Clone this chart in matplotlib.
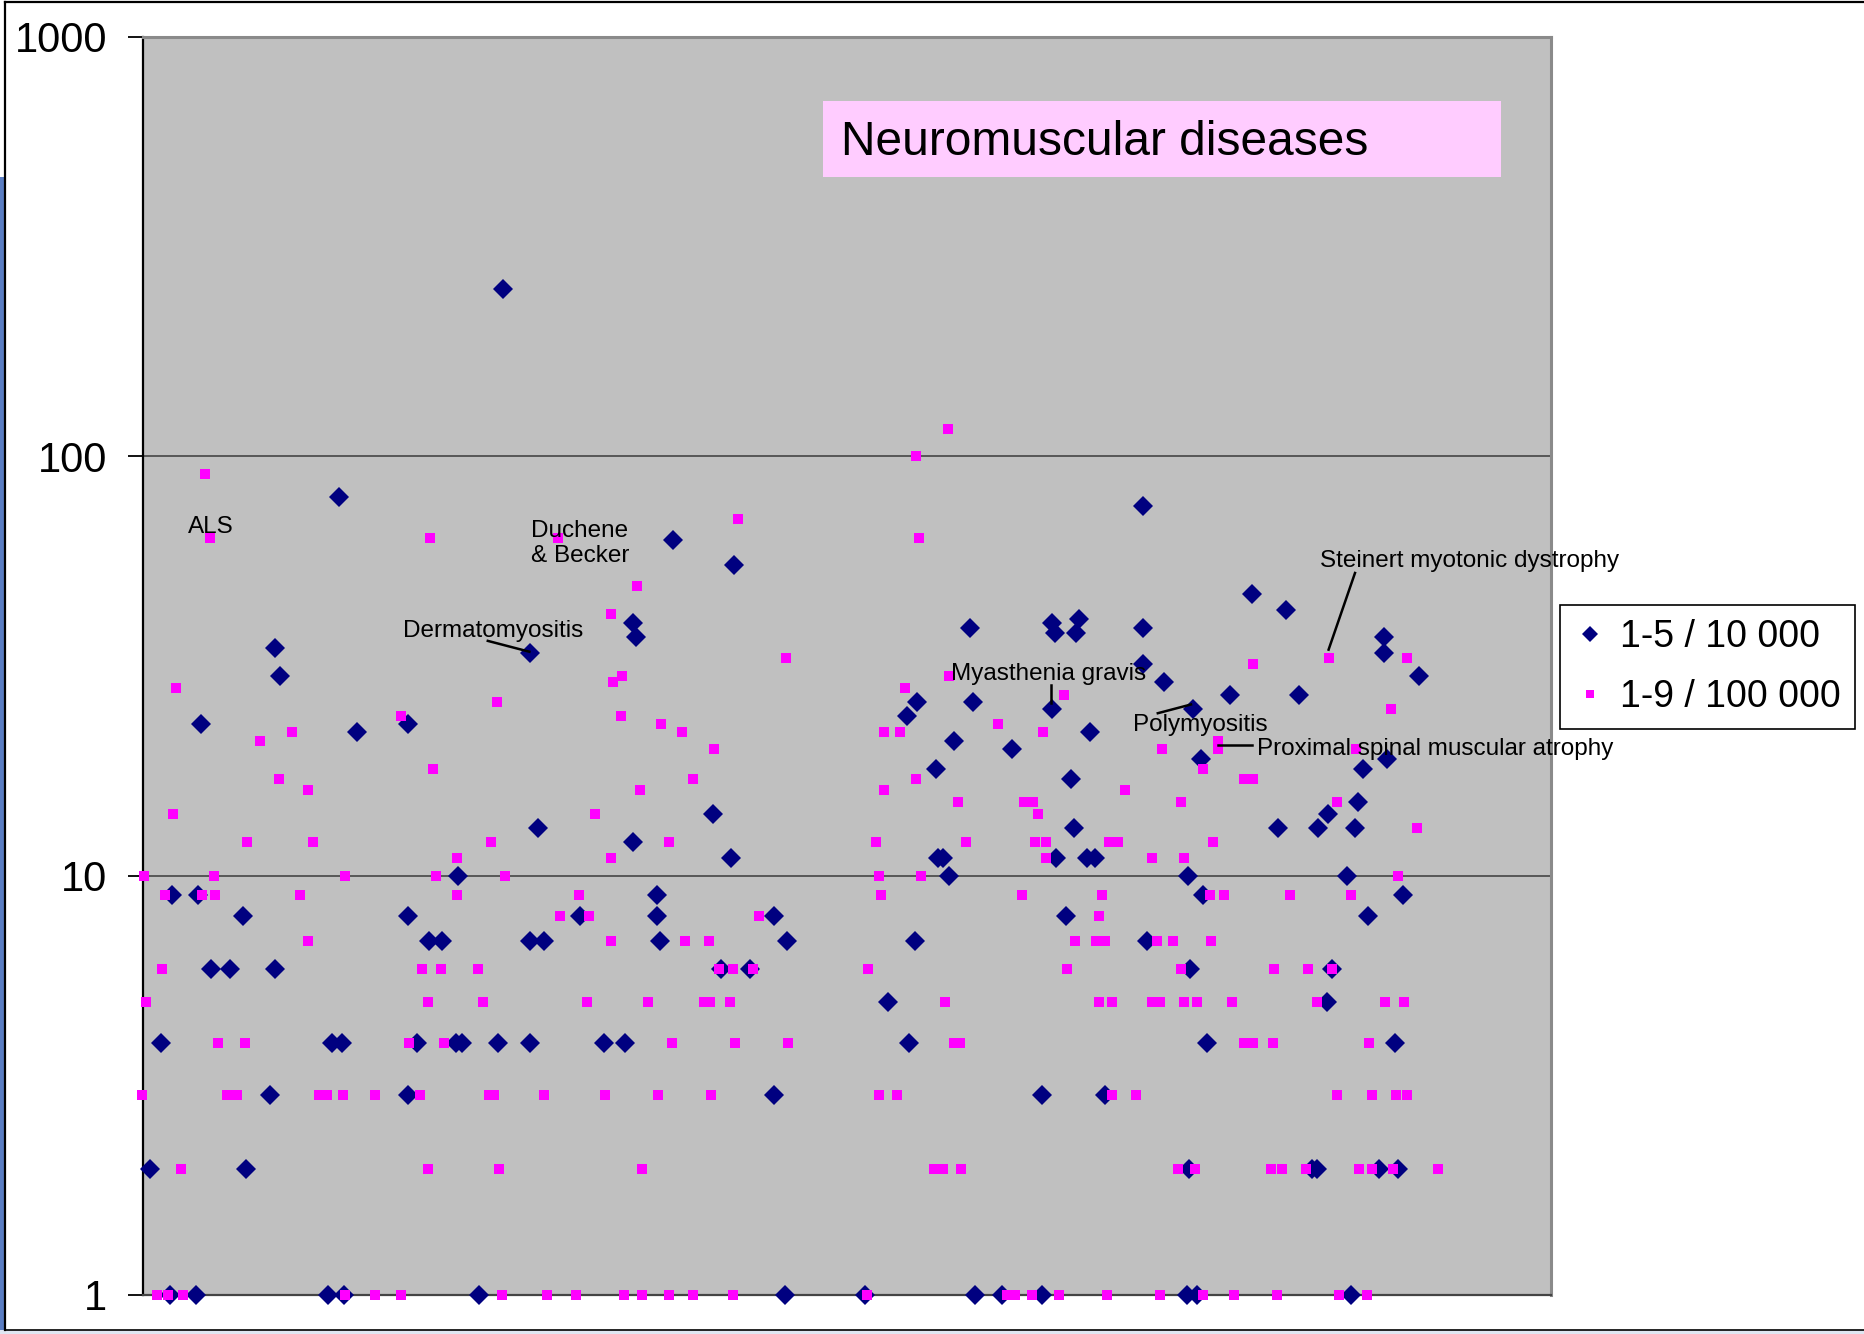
import matplotlib
matplotlib.use("Agg")
import matplotlib.pyplot as plt
from matplotlib import font_manager
from matplotlib.patches import Rectangle
from matplotlib.lines import Line2D

# ---------------- data ----------------
# series "1-5 / 10 000" (navy diamonds): x = disease index, y = value
navy_x = [48.9, 32.9, 34.3, 14.4, 53.6, 7.2, 13.7, 25.1, 17.1, 21.75, 33, 4.5, 47.25, 49.75, 31.7, 1.8, 25.7,
          6.75, 13.25, 46.25, 50.25,
          90,
          96.75, 66.2, 98.7, 78.75, 66.2, 109.2, 71.4, 74.8, 96.75, 100.2, 68.4, 78.25, 79.75, 88.75, 96.75,
          115.25, 120.6, 66.2, 84.1,
          132.6, 147.75, 122.6, 123.25, 142.5, 122.5, 147.1, 128.6, 128.6, 157.7, 129.25, 161, 144.4, 151.75,
          157.7, 160.4,
          206.8, 227.3, 228, 234, 233.3, 207.5, 193.6, 190.9, 227.3, 202.8, 217.3, 236.7, 198.2, 232, 232.7,
          198.7, 200.1, 201.5, 228.3, 235.9, 238, 230.7, 192.9, 186.25, 191.6, 224.75, 240.6, 180.5, 208.1,
          214.7, 224.75,
          250, 277.2, 285.75, 250, 250, 255.25, 271.75, 289.1, 262.6, 264.5, 283.8, 293.7, 296.3, 261.2, 265.1,
          251.1, 261.8, 297.2, 295.9, 265.9, 261.6, 292.2, 293.4, 261, 263.5,
          310.25, 310.25, 318.9, 310.9, 305, 303.7, 303, 300.9, 315, 306.3, 312.9, 309.1, 313.75, 301.9]
navy_y = [80, 35, 30, 23, 22, 9, 9, 8, 6, 6, 6, 4, 4, 4, 3, 2, 2,
          1, 1, 1, 1,
          250,
          34, 23, 13, 10, 8, 8, 7, 7, 7, 7, 4, 4, 4, 4, 4,
          4, 4, 3, 1,
          63, 55, 40, 37, 14, 12, 11, 9, 8, 8, 7, 7, 6, 6,
          3, 1,
          39, 40, 38, 41, 38, 26, 26, 24, 25, 21, 20, 22, 18, 17, 13,
          11, 11, 10, 11, 11, 11, 8, 7, 5, 4, 3, 3, 1, 1,
          1, 1,
          76, 47, 43, 39, 32, 29, 27, 27, 25, 19, 13, 13, 14, 10, 9,
          7, 6, 6, 5, 4, 2, 2, 2, 1, 1,
          37, 34, 30, 19, 18, 15, 13, 10, 9, 8, 4, 2, 2, 1]

# series "1-9 / 100 000" (magenta squares)
pink_x = [15.4, 16.75, 8.2, 29.3, 37.3, 34, 41.3, 7.5, 26.1, 42.6, 0.2, 17.8, 50.6, 5.5, 14.75, 18.1, 39.3,
          41.3, 4.8, 0.8, 18.75, 25.4, -0.3, 20.9, 23.4, 44.1, 45.9, 49.9, 57.9, 9.5, 3.6, 6.3, 10.1, 50.6, 57.9,
          71.8, 103.7, 116.9, 117.6, 119.7, 88.4, 64.5, 119.5, 72.5, 113, 87.1, 78.5, 116.9, 73.2, 90.4, 78.5,
          108.9, 104.3, 111.6, 116.9, 69.8, 74.5, 83.75, 71.2, 85.1, 111, 66.5, 75.2, 69.2, 86.4, 87.75, 100.3,
          115.6, 71.2, 89.1, 64.5, 89.75, 101, 108.3, 120.25,
          148.75, 123.6, 160.7, 129.5, 134.8, 142.8, 137.4, 124.25, 131.5, 154.1, 135.5, 141.5, 144.1, 147.4,
          152.4, 126.2, 140.3, 141.8, 146.75, 132.2, 148.1, 161.3, 128.8, 142.1, 124.8, 124.8, 131.5, 137.4,
          147.4,
          201.2, 193.25, 193.9, 201.6, 190.6, 230.3, 185.25, 189.25, 213.75, 225, 185.25, 193.25, 203.8, 220.25,
          222.6, 223.75, 183.25, 205.8, 223, 225.75, 225.8, 183.9, 194.5, 184.6, 219.75, 181.25, 200.5, 202.8,
          204.2, 233, 231, 183.9, 188.6, 197.75, 200.1, 204.4, 180.9, 215.9, 218, 222.3, 229,
          277.4, 296.6, 254.8, 268.8, 268.8, 264.9, 275.25, 277.6, 245.6, 259.5, 241.6, 243.8, 267.5, 252.25,
          260.25, 239.7, 266.8, 270.2, 286.75, 239, 238.25, 240.5, 253.6, 257.6, 267.1, 259.4, 282.75, 291.3,
          297.3, 238.9, 242.25, 252.2, 254.3, 260.25, 263.5, 272.2, 293.4, 275.25, 277.6, 282.4, 242.25, 248.25,
          298.4, 258.8, 262.9, 282, 284.7, 290.75, 240.9, 254.2, 264.9, 272.75, 283.4, 299,
          315.9, 311.9, 303.25, 298.6, 318.6, 313.8, 302, 310.6, 315.25, 306.6, 307.25, 313.25, 315.9, 303.9,
          307.25, 312.5, 323.8, 305.9]
pink_y = [91, 64, 28, 21, 22, 17, 16, 14, 12, 12, 10, 10, 10, 9, 9, 9, 9,
          7, 6, 5, 4, 4, 3, 3, 3, 3, 3, 3, 3, 2, 1, 1, 1, 1, 1,
          64, 64, 42, 29, 30, 26, 24, 24, 18, 14, 12, 11, 11, 10, 10, 9,
          9, 8, 8, 7, 6, 6, 6, 5, 5, 5, 4, 4, 3, 3, 3, 3,
          3, 2, 2, 1, 1, 1, 1, 1,
          71, 49, 33, 23, 22, 20, 17, 16, 12, 8, 7, 7, 6, 6,
          6, 5, 5, 5, 5, 4, 4, 4, 3, 3, 2, 1, 1, 1,
          1,
          116, 100, 64, 30, 28, 27, 22, 22, 23, 22, 16, 17, 15, 15,
          15, 14, 12, 12, 12, 12, 11, 10, 10, 9, 9, 6, 5, 4,
          4, 7, 6, 3, 3, 2, 2, 2, 1, 1, 1, 1, 1,
          32, 33, 20, 21, 20, 18, 17, 17, 16, 15, 12, 12, 12, 11,
          11, 9, 9, 9, 9, 8, 7, 7, 7, 7, 7, 6, 6, 6,
          6, 5, 5, 5, 5, 5, 5, 5, 5, 4, 4, 4, 3, 3,
          3, 2, 2, 2, 2, 2, 1, 1, 1, 1, 1, 1,
          33, 25, 20, 15, 13, 10, 9, 5, 5, 4, 3, 3, 3, 2,
          2, 2, 2, 1]

y_ticks = [1, 10, 100, 1000]
y_tick_labels = ["1", "10", "100", "1000"]
series_labels = ["1-5 / 10 000", "1-9 / 100 000"]
title_text = "Neuromuscular diseases"

# annotations: (text, text x, text y, leader line or None)
annotations = [
    ("ALS", 11.2, 68, None),
    ("Duchene\n& Becker", 96.9, 62, None),
    ("Dermatomyositis", 65, 38.4, ((86.2, 36.3), (96.6, 34.2))),
    ("Myasthenia gravis", 202.1, 30.2, ((227.1, 28.5), (227.1, 25.8))),
    ("Polymyositis", 247.6, 22.9, ((253.7, 24.4), (262, 25.6))),
    ("Proximal spinal muscular atrophy", 278.5, 20.0, ((268.7, 20.5), (277.2, 20.5))),
    ("Steinert myotonic dystrophy", 294.3, 56.2, ((296.4, 34.6), (303, 52.7))),
]

# ---------------- style ----------------
names = {f.name for f in font_manager.fontManager.ttflist}
BASE = "Liberation Sans" if "Liberation Sans" in names else "DejaVu Sans"
plt.rcParams["font.family"] = [BASE, "DejaVu Sans"]
if "Liberation Sans Narrow" in names:
    title_family, title_size = "Liberation Sans Narrow", 40
else:
    title_family, title_size = BASE, 34.5

W, H = 1865, 1334
fig = plt.figure(figsize=(W / 100, H / 100), dpi=100)
fig.patch.set_facecolor("white")

# slide-like frame and strips
fig.patches.append(Rectangle((0, 0), 4 / W, 1 - 177 / H, transform=fig.transFigure,
                             facecolor="#5a7dc2", edgecolor="none", zorder=0))
fig.patches.append(Rectangle((0, 0), 1, 4 / H, transform=fig.transFigure,
                             facecolor="#dfe6f2", edgecolor="none", zorder=0))
fig.lines.append(Line2D([4.5 / W, 4.5 / W], [4 / H, 1 - 2 / H], transform=fig.transFigure,
                        color="black", lw=1.6))
fig.lines.append(Line2D([4.5 / W, 1], [1 - 2 / H, 1 - 2 / H], transform=fig.transFigure,
                        color="black", lw=1.6))
fig.lines.append(Line2D([4.5 / W, 1], [4 / H, 4 / H], transform=fig.transFigure,
                        color="black", lw=1.2))

left, right, top, bottom = 143, 1551, 37, 1295
ax = fig.add_axes([left / W, 1 - bottom / H, (right - left) / W, (bottom - top) / H])
ax.set_facecolor("#c0c0c0")
ax.set_yscale("log")
ax.set_ylim(1, 1000)
ax.set_xlim(0, 352)

for v in [10, 100]:
    ax.axhline(v, color="#3a3a3a", lw=1.1, zorder=1)

ax.set_yticks(y_ticks)
ax.set_yticklabels(y_tick_labels)
ax.yaxis.set_minor_locator(matplotlib.ticker.NullLocator())
ax.tick_params(axis="y", which="major", direction="out", length=11, width=1.3,
               labelsize=30, pad=15, color="black")
ax.set_xticks([])

ax.spines["left"].set_color("black")
ax.spines["left"].set_linewidth(1.6)
ax.spines["bottom"].set_color("#444444")
ax.spines["bottom"].set_linewidth(1.6)
for s in ["top", "right"]:
    ax.spines[s].set_color("#8a8a8a")
    ax.spines[s].set_linewidth(2.2)

navy_plot, = ax.plot(navy_x, navy_y, linestyle="none", marker="D", markersize=10,
                     color="#000080", markeredgewidth=0, clip_on=False, zorder=3,
                     label=series_labels[0])
pink_plot, = ax.plot(pink_x, pink_y, linestyle="none", marker="s", markersize=7.4,
                     color="#ff00ff", markeredgewidth=0, clip_on=False, zorder=4,
                     label=series_labels[1])

# annotations
for text, tx, ty, leader in annotations:
    ax.text(tx, ty, text, fontsize=17.5, ha="left", va="center", color="black",
            linespacing=1.15, zorder=5)
    if leader is not None:
        (x0, y0), (x1, y1) = leader
        ax.plot([x0, x1], [y0, y1], color="black", lw=1.8, zorder=5, clip_on=False)

# title box
ax.add_patch(Rectangle((0.483, 0.8886), 0.9645 - 0.483, 0.949 - 0.8886, transform=ax.transAxes,
                       facecolor="#ffccff", edgecolor="none", zorder=6))
ax.text(0.4957, 0.916, title_text, transform=ax.transAxes, fontsize=title_size,
        family=title_family, ha="left", va="center", zorder=7)

# legend
leg = fig.legend(handles=[navy_plot, pink_plot], labels=series_labels, loc="upper left",
                 bbox_to_anchor=(1560 / W, 1 - 605 / H), fontsize=27, frameon=True,
                 fancybox=False, edgecolor="black", framealpha=1, borderaxespad=0,
                 handlelength=0.85, handletextpad=0.38, labelspacing=0.65, borderpad=0.37,
                 markerscale=0.8)
leg.get_frame().set_linewidth(1.2)

fig.savefig("out.png", dpi=100, facecolor=fig.get_facecolor())
